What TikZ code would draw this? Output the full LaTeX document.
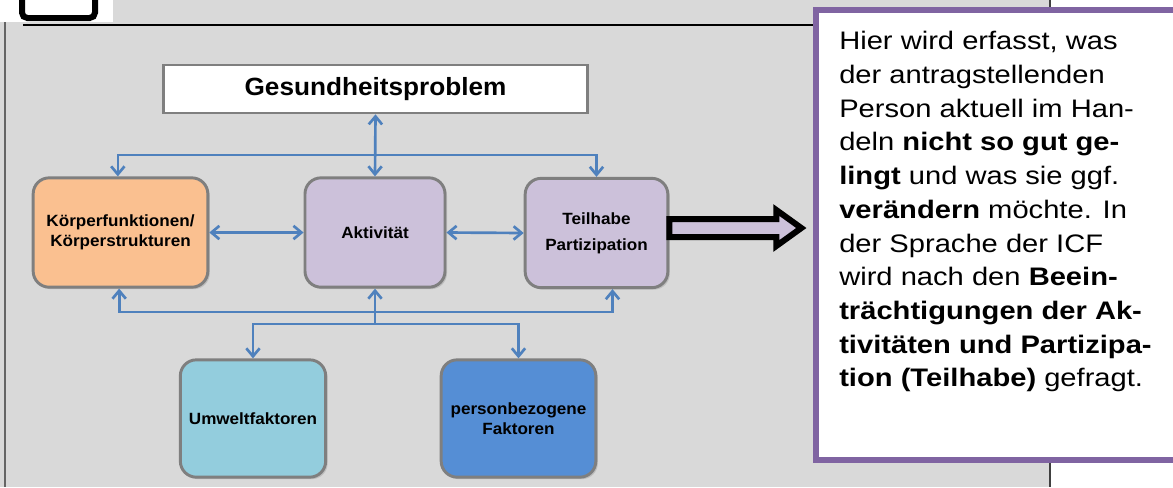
\documentclass[tikz,border=0pt]{standalone}
\usepackage{fontspec}
\newfontfamily\diagfont[FakeStretch=1.05]{Liberation Sans}
\newfontfamily\notefont[FakeStretch=1.15]{Liberation Sans}
\usetikzlibrary{arrows.meta,shadows,positioning}

\definecolor{panelgray}{HTML}{D9D9D9}
\definecolor{framegray}{HTML}{7F7F7F}
\definecolor{linkblue}{HTML}{4F81BD}
\definecolor{koerperorange}{HTML}{FAC090}
\definecolor{lavender}{HTML}{CCC1DA}
\definecolor{umweltblue}{HTML}{93CDDD}
\definecolor{personblue}{HTML}{558ED5}
\definecolor{notepurple}{HTML}{8064A2}

\begin{document}
\begin{tikzpicture}[x=0.75pt,y=-0.75pt,
  >={Straight Barb[length=6pt,width=10pt]},
  icfbox/.style={draw=framegray, line width=2.2pt, rounded corners=12pt,
    align=center, inner sep=0pt,
    font=\diagfont\bfseries\fontsize{12.2}{14.8}\selectfont,
    drop shadow={shadow xshift=1.5pt,shadow yshift=-1.5pt,opacity=.3}},
  link/.style={draw=linkblue, line width=2pt},
  hollowarrow/.style={draw=black, line width=4.5pt, fill=lavender, miter limit=10},
]
  \path[use as bounding box,clip] (0,0) rectangle (1173,487);

  % panel
  \fill[panelgray] (0,0) rectangle (1050,487);
  \draw[framegray!80!black, line width=2pt] (5,0) -- (5,487);
  \draw[black!75, line width=2.2pt] (1050,0) -- (1050,487);
  \fill[white] (0,0) rectangle (113,22);
  \draw[black, line width=4.5pt, fill=white, rounded corners=4pt] (22,-20) rectangle (95,18);
  \draw[black, line width=1.5pt] (23,25) -- (813,25);

  % ICF model
  \node[draw=framegray, line width=2pt, fill=white, minimum width=318pt, minimum height=36pt,
        font=\diagfont\bfseries\fontsize{18.7}{20}\selectfont] (prob) at (375.5,89) {Gesundheitsproblem};

  \node[icfbox, fill=koerperorange, minimum width=131pt, minimum height=82pt] (koerp) at (120.5,232.5)
    {K\"orperfunktionen/\\K\"orperstrukturen};
  \node[icfbox, fill=lavender, minimum width=105pt, minimum height=82pt] (akt) at (375,232.5)
    {Aktivit\"at};
  \node[icfbox, fill=lavender, minimum width=107pt, minimum height=82pt] (teil) at (596.5,233)
    {Teilhabe\\[5pt]Partizipation};
  \node[icfbox, fill=umweltblue, minimum width=109pt, minimum height=88pt] (umw) at (253,418.5)
    {Umweltfaktoren};
  \node[icfbox, fill=personblue, minimum width=116pt, minimum height=88pt] (pers) at (518.5,418.5)
    {personbezogene\\Faktoren};

  \coordinate (jtop) at (375,155);
  \coordinate (jbot) at (375,312);
  \coordinate (jlow) at (375,324);

  \draw[link,<->] (prob.south) -- (akt.north);
  \draw[link,->] (jtop) -| ([xshift=-2pt]koerp.north);
  \draw[link,->] (jtop) -| (teil.north);
  \draw[link,<->] (koerp.east) -- (akt.west);
  \draw[link,<->] (akt.east) -- (teil.west);
  \draw[link,->] (jbot) -| ([xshift=-1pt]koerp.south);
  \draw[link,->] (jbot) -- (akt.south);
  \draw[link,->] (jbot) -| ([xshift=12pt]teil.south);
  \draw[link] (jbot) -- (jlow);
  \draw[link,->] (jlow) -| (umw.north);
  \draw[link,->] (jlow) -| (pers.north);

  \draw[hollowarrow] (teil.east) ++(0,-14) -- ++(107,0) -- ++(0,-9) -- ++(25,18)
    -- ++(-25,18) -- ++(0,-9) -- ++(-107,0) -- cycle;

  % note
  \draw[notepurple, line width=4.5pt, fill=white] (816,10) rectangle (1190,460);
  \node[anchor=north west, inner sep=0pt, align=left,
        font=\notefont\fontsize{19}{25.3}\selectfont] (note) at (839,31) {%
    Hier wird erfasst, was\\
    der antragstellenden\\
    Person aktuell im Han-\\
    deln \textbf{nicht so gut ge-}\\
    \textbf{lingt} und was sie ggf.\\
    \textbf{ver\"andern} m\"ochte. In\\
    der Sprache der ICF\\
    wird nach den \textbf{Beein-}\\
    \textbf{tr\"achtigungen der Ak-}\\
    \textbf{tivit\"aten und Partizipa-}\\
    \textbf{tion (Teilhabe)} gefragt.};
\end{tikzpicture}
\end{document}
